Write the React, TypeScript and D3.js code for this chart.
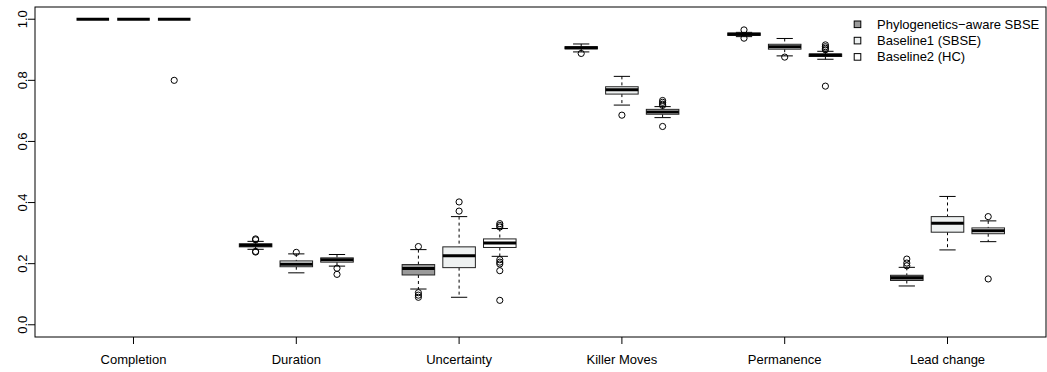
import React from 'react';
import * as d3 from 'd3';

// metrics on the x axis
const metrics = ['Completion', 'Duration', 'Uncertainty', 'Killer Moves', 'Permanence', 'Lead change'];
const seriesNames = ['Phylogenetics\u2212aware SBSE', 'Baseline1 (SBSE)', 'Baseline2 (HC)'];
const seriesFills = ['#9a9a9a', '#eef1f1', '#ffffff'];

// [lower whisker, q1, median, q3, upper whisker] per metric
const phyloStats = [
  [1, 1, 1, 1, 1],
  [0.247, 0.255, 0.26, 0.265, 0.273],
  [0.117, 0.163, 0.184, 0.197, 0.246],
  [0.893, 0.903, 0.907, 0.91, 0.919],
  [0.943, 0.947, 0.951, 0.955, 0.957],
  [0.127, 0.145, 0.154, 0.162, 0.188],
];
const phyloOutliers = [
  [],
  [0.281, 0.278, 0.24, 0.238],
  [0.256, 0.105, 0.097, 0.09],
  [0.888],
  [0.965, 0.938],
  [0.215, 0.202, 0.193],
];

const base1Stats = [
  [1, 1, 1, 1, 1],
  [0.17, 0.19, 0.198, 0.209, 0.232],
  [0.09, 0.187, 0.226, 0.255, 0.354],
  [0.719, 0.755, 0.769, 0.779, 0.813],
  [0.88, 0.902, 0.91, 0.918, 0.937],
  [0.245, 0.303, 0.332, 0.354, 0.42],
];
const base1Outliers = [
  [],
  [0.237],
  [0.372, 0.402],
  [0.686],
  [0.876],
  [],
];

const base2Stats = [
  [1, 1, 1, 1, 1],
  [0.192, 0.205, 0.213, 0.219, 0.23],
  [0.224, 0.253, 0.268, 0.281, 0.315],
  [0.678, 0.689, 0.696, 0.705, 0.714],
  [0.869, 0.878, 0.883, 0.886, 0.895],
  [0.272, 0.298, 0.308, 0.317, 0.34],
];
const base2Outliers = [
  [0.8],
  [0.185, 0.165],
  [0.331, 0.325, 0.32, 0.213, 0.205, 0.199, 0.177, 0.08],
  [0.734, 0.728, 0.722, 0.718, 0.649],
  [0.916, 0.91, 0.905, 0.9, 0.781],
  [0.354, 0.15],
];

const yTicks = [0, 0.2, 0.4, 0.6, 0.8, 1.0];

const W = 1047;
const H = 372;
const plot = { left: 35, right: 1046, top: 7, bottom: 337 };
const font = '"Liberation Sans", Arial, sans-serif';
const fs = 13;

const App = () => {
  const allStats = [phyloStats, base1Stats, base2Stats];
  const allOut = [phyloOutliers, base1Outliers, base2Outliers];

  // boxes sit at 1,2,3, 5,6,7, ... (R style "at" positions), range padded 4%
  const nPos = metrics.length * 4 - 1;
  const pad = nPos * 0.04;
  const x = d3.scaleLinear().domain([0.5 - pad, nPos + 0.5 + pad]).range([plot.left, plot.right]);
  const y = d3.scaleLinear().domain([-0.04, 1.04]).range([plot.bottom, plot.top]);
  const unit = x(1) - x(0);
  const boxW = unit * 0.8;
  const capW = boxW * 0.5;

  const boxes: any[] = [];
  metrics.forEach((m, mi) => {
    allStats.forEach((st, si) => {
      const pos = mi * 4 + si + 1;
      const [lo, q1, med, q3, hi] = st[mi];
      const cx = x(pos);
      boxes.push(
        <g key={`${mi}-${si}`}>
          <line x1={cx} x2={cx} y1={y(hi)} y2={y(q3)} stroke="#000" strokeDasharray="3,3" />
          <line x1={cx} x2={cx} y1={y(q1)} y2={y(lo)} stroke="#000" strokeDasharray="3,3" />
          <line x1={cx - capW / 2} x2={cx + capW / 2} y1={y(hi)} y2={y(hi)} stroke="#000" />
          <line x1={cx - capW / 2} x2={cx + capW / 2} y1={y(lo)} y2={y(lo)} stroke="#000" />
          <rect x={cx - boxW / 2} y={y(q3)} width={boxW} height={Math.max(0, y(q1) - y(q3))}
            fill={seriesFills[si]} stroke="#222" />
          <line x1={cx - boxW / 2} x2={cx + boxW / 2} y1={y(med)} y2={y(med)} stroke="#000" strokeWidth={3} />
          {allOut[si][mi].map((v, k) => (
            <circle key={k} cx={cx} cy={y(v)} r={3.1} fill="none" stroke="#000" strokeWidth={1} />
          ))}
        </g>
      );
    });
  });

  return (
    <svg width={W} height={H} style={{ position: 'absolute', left: 0, top: 0, background: '#fff' }}
      fontFamily={font}>
      <rect x={0} y={0} width={W} height={H} fill="#fff" />
      {boxes}
      <rect x={plot.left} y={plot.top} width={plot.right - plot.left} height={plot.bottom - plot.top}
        fill="none" stroke="#000" />
      {/* y axis */}
      {yTicks.map(t => (
        <g key={t}>
          <line x1={plot.left - 7} x2={plot.left} y1={y(t)} y2={y(t)} stroke="#000" />
          <text transform={`translate(27,${y(t)}) rotate(-90)`} textAnchor="middle" fontSize={fs}>
            {t.toFixed(1)}
          </text>
        </g>
      ))}
      {/* x axis */}
      {metrics.map((m, mi) => {
        const cx = x(mi * 4 + 2);
        return (
          <g key={m}>
            <line x1={cx} x2={cx} y1={plot.bottom} y2={plot.bottom + 7} stroke="#000" />
            <text x={cx} y={364} textAnchor="middle" fontSize={fs}>{m}</text>
          </g>
        );
      })}
      {/* legend */}
      {seriesNames.map((s, i) => (
        <g key={s} transform={`translate(0,${24.3 + i * 16.3})`}>
          <rect x={854.2} y={-3.3} width={6.6} height={6.6} fill={seriesFills[i]} stroke="#000" />
          <text x={877} y={4.5} fontSize={fs}>{s}</text>
        </g>
      ))}
    </svg>
  );
};

export default App;
